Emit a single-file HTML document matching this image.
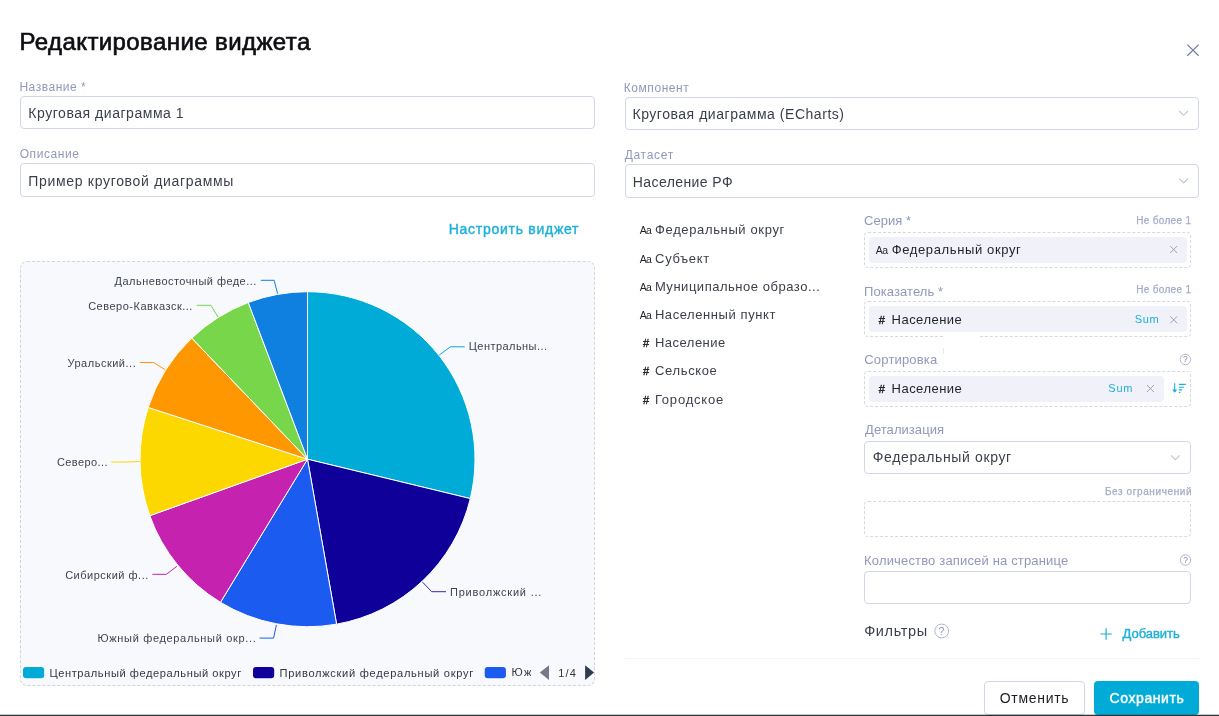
<!DOCTYPE html>
<html><head><meta charset="utf-8"><title>Редактирование виджета</title>
<style>
html,body{margin:0;padding:0;}
body{width:1219px;height:716px;position:relative;overflow:hidden;background:#fff;font-family:"Liberation Sans",sans-serif;}
.t{position:absolute;white-space:nowrap;line-height:1;font-family:"Liberation Sans",sans-serif;}
.box{position:absolute;box-sizing:border-box;border:1px solid #d3d6e8;border-radius:4px;background:#fff;}
.dash{position:absolute;box-sizing:border-box;border:1px dashed #d5d8e8;border-radius:4px;}
.chip{position:absolute;background:#f1f2f9;border-radius:4px;}
svg{position:absolute;left:0;top:0;}
</style></head><body>
<!-- inputs left -->
<div class="box" style="left:20px;top:96px;width:575px;height:33px"></div>
<div class="box" style="left:20px;top:163px;width:575px;height:34px"></div>
<!-- selects right -->
<div class="box" style="left:625px;top:97px;width:574px;height:33px"></div>
<div class="box" style="left:625px;top:164px;width:574px;height:34px"></div>
<!-- chart box -->
<div class="dash" style="left:20px;top:261px;width:575px;height:425px;border-radius:7px;background:#f8f9fd;border-color:#d3d4dc"></div>
<!-- right panel -->
<div class="dash" style="left:864px;top:232px;width:327px;height:36px"></div>
<div class="chip" style="left:869px;top:237px;width:318px;height:26px"></div>
<div class="dash" style="left:864px;top:301px;width:327px;height:36px"></div>
<div class="chip" style="left:869px;top:306px;width:318px;height:26px"></div>
<div style="position:absolute;left:944px;top:334px;width:36px;height:5px;background:#fff"></div>
<div style="position:absolute;left:943px;top:348px;width:1px;height:6px;background:#d6f0f9"></div>
<div class="dash" style="left:864px;top:371px;width:327px;height:36px"></div>
<div class="chip" style="left:869px;top:376px;width:295px;height:26px"></div>
<div class="box" style="left:864px;top:441px;width:327px;height:33px"></div>
<div class="dash" style="left:864px;top:501px;width:327px;height:36px"></div>
<div class="box" style="left:864px;top:571px;width:327px;height:33px"></div>
<!-- divider -->
<div style="position:absolute;left:625px;top:658px;width:574px;height:1px;background:#f3f4f8"></div>
<!-- buttons -->
<div class="box" style="left:984px;top:681px;width:101px;height:34px"></div>
<div style="position:absolute;left:1094px;top:681px;width:105px;height:34px;border-radius:4px;background:#00acd7"></div>
<!-- bottom dark line -->
<div style="position:absolute;left:0;top:714px;width:1219px;height:1px;background:rgba(48,51,56,0.28);z-index:5"></div>
<div style="position:absolute;left:0;top:715px;width:1219px;height:1px;background:#303338;z-index:5"></div>
<svg width="1219" height="716" viewBox="0 0 1219 716">
<path d="M307.5,459.2 L307.50,291.70 A167.5,167.5 0 0 1 470.30,498.59 Z" fill="#00acd7" stroke="#fff" stroke-width="1" stroke-linejoin="round"/>
<path d="M307.5,459.2 L470.30,498.59 A167.5,167.5 0 0 1 336.59,624.16 Z" fill="#10009a" stroke="#fff" stroke-width="1" stroke-linejoin="round"/>
<path d="M307.5,459.2 L336.59,624.16 A167.5,167.5 0 0 1 220.48,602.32 Z" fill="#1b5bef" stroke="#fff" stroke-width="1" stroke-linejoin="round"/>
<path d="M307.5,459.2 L220.48,602.32 A167.5,167.5 0 0 1 149.80,515.66 Z" fill="#c522b0" stroke="#fff" stroke-width="1" stroke-linejoin="round"/>
<path d="M307.5,459.2 L149.80,515.66 A167.5,167.5 0 0 1 148.20,407.44 Z" fill="#fcd800" stroke="#fff" stroke-width="1" stroke-linejoin="round"/>
<path d="M307.5,459.2 L148.20,407.44 A167.5,167.5 0 0 1 191.78,338.10 Z" fill="#ff9800" stroke="#fff" stroke-width="1" stroke-linejoin="round"/>
<path d="M307.5,459.2 L191.78,338.10 A167.5,167.5 0 0 1 248.29,302.51 Z" fill="#78d64b" stroke="#fff" stroke-width="1" stroke-linejoin="round"/>
<path d="M307.5,459.2 L248.29,302.51 A167.5,167.5 0 0 1 307.50,291.70 Z" fill="#0f80e0" stroke="#fff" stroke-width="1" stroke-linejoin="round"/>
<polyline points="439.3,355.0 450.4,346.8 464.7,346.8" fill="none" stroke="#00acd7" stroke-width="1"/>
<polyline points="422.5,582.1 431.7,591.7 446.0,591.7" fill="none" stroke="#3528ad" stroke-width="1"/>
<polyline points="276.4,625.0 273.6,638.1 259.6,638.1" fill="none" stroke="#1b5bef" stroke-width="1"/>
<polyline points="176.9,566.3 166.4,574.3 152.3,574.3" fill="none" stroke="#c522b0" stroke-width="1"/>
<polyline points="139.6,461.5 125.0,462.0 111.2,462.0" fill="none" stroke="#fcd800" stroke-width="1"/>
<polyline points="165.0,369.6 153.5,362.5 139.8,362.5" fill="none" stroke="#ff9800" stroke-width="1"/>
<polyline points="217.9,317.0 211.0,305.3 196.7,305.3" fill="none" stroke="#78d64b" stroke-width="1"/>
<polyline points="277.6,293.6 274.1,280.3 260.8,280.3" fill="none" stroke="#0f80e0" stroke-width="1"/>
<!-- legend -->
<rect x="23" y="667" width="21.2" height="11.2" rx="3" stroke="#fdfdff" stroke-width="1.6" paint-order="stroke" fill="#00acd7"/>
<rect x="253" y="667" width="21.2" height="11.2" rx="3" stroke="#fdfdff" stroke-width="1.6" paint-order="stroke" fill="#10009a"/>
<rect x="484.7" y="667" width="21.2" height="11.2" rx="3" stroke="#fdfdff" stroke-width="1.6" paint-order="stroke" fill="#1b5bef"/>
<path d="M549,665.2 L549,680 L539.8,672.6 Z" fill="#77778d"/>
<path d="M585.1,665.2 L585.1,680 L594,672.6 Z" fill="#2f3a4f"/>
<!-- close X -->
<path d="M1187.3,44.6 L1198.7,55.8 M1198.7,44.6 L1187.3,55.8" stroke="#7b80a2" stroke-width="1.3" fill="none"/>
<!-- select chevrons -->
<path d="M1179.2,111 L1183.6,115.3 L1188,111" stroke="#c2c5db" stroke-width="1.15" fill="none"/>
<path d="M1179.2,178.7 L1183.6,183 L1188,178.7" stroke="#c2c5db" stroke-width="1.15" fill="none"/>
<path d="M1171,455.4 L1175.4,459.7 L1179.7,455.4" stroke="#c2c5db" stroke-width="1.15" fill="none"/>
<!-- chip x -->
<path d="M1170.2,246 L1177.2,253 M1177.2,246 L1170.2,253" stroke="#9a9fc0" stroke-width="1" fill="none"/>
<path d="M1170.2,316.3 L1177.2,323.3 M1177.2,316.3 L1170.2,323.3" stroke="#9a9fc0" stroke-width="1" fill="none"/>
<path d="M1146.9,385 L1153.9,392 M1153.9,385 L1146.9,392" stroke="#9a9fc0" stroke-width="1" fill="none"/>
<!-- sort icon -->
<path d="M1174.7,383.2 L1174.7,391.6" stroke="#1eb0d8" stroke-width="1.1" fill="none"/>
<path d="M1172.1,389.6 L1177.3,389.6 L1174.7,392.8 Z" fill="#1eb0d8"/>
<path d="M1178.9,384.4 L1185.8,384.4 M1178.9,387.2 L1184,387.2 M1178.9,389.9 L1182.3,389.9 M1178.9,392.4 L1180.4,392.4" stroke="#1eb0d8" stroke-width="1.1" fill="none"/>
<!-- help icons -->
<circle cx="1185.4" cy="359.5" r="5.2" stroke="#a9aecb" stroke-width="0.9" fill="none"/>
<circle cx="1185.5" cy="560" r="5.2" stroke="#a9aecb" stroke-width="0.9" fill="none"/>
<circle cx="941.7" cy="631" r="6.9" stroke="#a9aecb" stroke-width="0.9" fill="none"/>
<!-- plus -->
<path d="M1100.4,634 L1111.8,634 M1106.1,628.3 L1106.1,639.7" stroke="#1eb0d8" stroke-width="1.2" fill="none"/>
</svg>
<div style="position:absolute;left:0;top:0;width:1219px;height:716px;will-change:transform">
<span class="t" style="left:1183.1px;top:355.3px;font-size:8.5px;color:#9196ba;-webkit-text-stroke:0.12px #9196ba">?</span>
<span class="t" style="left:1183.2px;top:555.9px;font-size:8.5px;color:#9196ba;-webkit-text-stroke:0.12px #9196ba">?</span>
<span class="t" style="left:938.6px;top:625.6px;font-size:10.5px;color:#9196ba">?</span>
<span class="t" style="left:19.47px;top:29.68px;font-size:24px;color:#0d0d12;letter-spacing:0.404px;-webkit-text-stroke:0.65px #0d0d12;">Редактирование виджета</span>
<span class="t" style="left:19.41px;top:80.84px;font-size:12px;color:#9397bb;letter-spacing:0.523px;">Название *</span>
<span class="t" style="left:28.36px;top:106.05px;font-size:14px;color:#3b3f4a;letter-spacing:0.536px;">Круговая диаграмма 1</span>
<span class="t" style="left:19.69px;top:147.84px;font-size:12px;color:#9397bb;letter-spacing:0.592px;">Описание</span>
<span class="t" style="left:28.27px;top:173.95px;font-size:14px;color:#3b3f4a;letter-spacing:0.688px;">Пример круговой диаграммы</span>
<span class="t" style="left:623.71px;top:81.84px;font-size:12px;color:#9397bb;letter-spacing:0.574px;">Компонент</span>
<span class="t" style="left:632.46px;top:107.05px;font-size:14px;color:#3b3f4a;letter-spacing:0.532px;">Круговая диаграмма (ECharts)</span>
<span class="t" style="left:624.67px;top:149.04px;font-size:12px;color:#9397bb;letter-spacing:0.701px;">Датасет</span>
<span class="t" style="left:632.76px;top:174.65px;font-size:14px;color:#3b3f4a;letter-spacing:0.420px;">Население РФ</span>
<span class="t" style="left:448.77px;top:222.15px;font-size:14px;color:#1eb0d8;letter-spacing:0.727px;-webkit-text-stroke:0.4px #1eb0d8;">Настроить виджет</span>
<span class="t" style="left:655.04px;top:223.20px;font-size:13px;color:#3b3f4a;letter-spacing:0.635px;">Федеральный округ</span>
<span class="t" style="left:655.11px;top:251.60px;font-size:13px;color:#3b3f4a;letter-spacing:0.631px;">Субъект</span>
<span class="t" style="left:654.89px;top:280.00px;font-size:13px;color:#3b3f4a;letter-spacing:0.524px;">Муниципальное образо...</span>
<span class="t" style="left:654.89px;top:308.20px;font-size:13px;color:#3b3f4a;letter-spacing:0.579px;">Населенный пункт</span>
<span class="t" style="left:654.89px;top:336.20px;font-size:13px;color:#3b3f4a;letter-spacing:0.500px;">Население</span>
<span class="t" style="left:655.11px;top:364.40px;font-size:13px;color:#3b3f4a;letter-spacing:0.627px;">Сельское</span>
<span class="t" style="left:654.89px;top:393.00px;font-size:13px;color:#3b3f4a;letter-spacing:0.795px;">Городское</span>
<span class="t" style="left:639.67px;top:225.31px;font-size:10.5px;color:#1f2229;letter-spacing:-0.602px;">Aa</span>
<span class="t" style="left:639.67px;top:253.71px;font-size:10.5px;color:#1f2229;letter-spacing:-0.602px;">Aa</span>
<span class="t" style="left:639.67px;top:282.11px;font-size:10.5px;color:#1f2229;letter-spacing:-0.602px;">Aa</span>
<span class="t" style="left:639.67px;top:310.31px;font-size:10.5px;color:#1f2229;letter-spacing:-0.602px;">Aa</span>
<span class="t" style="left:643.12px;top:337.89px;font-size:11px;color:#1f2229;letter-spacing:0.000px;-webkit-text-stroke:0.4px #1f2229;">#</span>
<span class="t" style="left:643.12px;top:366.09px;font-size:11px;color:#1f2229;letter-spacing:0.000px;-webkit-text-stroke:0.4px #1f2229;">#</span>
<span class="t" style="left:643.12px;top:394.69px;font-size:11px;color:#1f2229;letter-spacing:0.000px;-webkit-text-stroke:0.4px #1f2229;">#</span>
<span class="t" style="left:864.11px;top:214.10px;font-size:13px;color:#9397bb;letter-spacing:0.038px;">Серия *</span>
<span class="t" style="left:1136.25px;top:215.53px;font-size:10px;color:#a6aac8;letter-spacing:0.317px;-webkit-text-stroke:0.25px #a6aac8;">Не более 1</span>
<span class="t" style="left:875.67px;top:245.01px;font-size:10.5px;color:#1f2229;letter-spacing:-0.502px;">Aa</span>
<span class="t" style="left:891.74px;top:242.90px;font-size:13px;color:#1f2229;letter-spacing:0.623px;">Федеральный округ</span>
<span class="t" style="left:864.09px;top:284.60px;font-size:13px;color:#9397bb;letter-spacing:0.076px;">Показатель *</span>
<span class="t" style="left:1136.25px;top:284.54px;font-size:10px;color:#a6aac8;letter-spacing:0.317px;-webkit-text-stroke:0.25px #a6aac8;">Не более 1</span>
<span class="t" style="left:878.72px;top:314.59px;font-size:11px;color:#1f2229;letter-spacing:0.000px;-webkit-text-stroke:0.4px #1f2229;">#</span>
<span class="t" style="left:891.59px;top:312.90px;font-size:13px;color:#1f2229;letter-spacing:0.475px;">Население</span>
<span class="t" style="left:1134.77px;top:314.29px;font-size:11px;color:#1eb0d8;letter-spacing:0.639px;">Sum</span>
<span class="t" style="left:864.31px;top:353.10px;font-size:13px;color:#9397bb;letter-spacing:0.175px;">Сортировка</span>
<span class="t" style="left:878.72px;top:383.69px;font-size:11px;color:#1f2229;letter-spacing:0.000px;-webkit-text-stroke:0.4px #1f2229;">#</span>
<span class="t" style="left:891.59px;top:382.00px;font-size:13px;color:#1f2229;letter-spacing:0.475px;">Население</span>
<span class="t" style="left:1108.37px;top:383.29px;font-size:11px;color:#1eb0d8;letter-spacing:0.689px;">Sum</span>
<span class="t" style="left:865.07px;top:423.40px;font-size:13px;color:#9397bb;letter-spacing:0.050px;">Детализация</span>
<span class="t" style="left:872.81px;top:449.85px;font-size:14px;color:#3b3f4a;letter-spacing:0.630px;">Федеральный округ</span>
<span class="t" style="left:1104.95px;top:486.54px;font-size:10px;color:#a6aac8;letter-spacing:0.603px;-webkit-text-stroke:0.25px #a6aac8;">Без ограничений</span>
<span class="t" style="left:864.09px;top:553.60px;font-size:13px;color:#9397bb;letter-spacing:0.162px;">Количество записей на странице</span>
<span class="t" style="left:864.19px;top:623.63px;font-size:14.5px;color:#3b3f4a;letter-spacing:0.636px;">Фильтры</span>
<span class="t" style="left:1122.59px;top:627.20px;font-size:13px;color:#1eb0d8;letter-spacing:-0.034px;-webkit-text-stroke:0.4px #1eb0d8;">Добавить</span>
<span class="t" style="left:999.71px;top:690.95px;font-size:14px;color:#1c1c24;letter-spacing:0.699px;">Отменить</span>
<span class="t" style="left:1109.45px;top:690.95px;font-size:14px;color:#ffffff;letter-spacing:0.606px;-webkit-text-stroke:0.4px #ffffff;">Сохранить</span>
<span class="t" style="left:468.77px;top:341.49px;font-size:11px;color:#3f4351;letter-spacing:0.448px;">Центральны...</span>
<span class="t" style="left:449.97px;top:586.89px;font-size:11px;color:#3f4351;letter-spacing:0.789px;">Приволжский ...</span>
<span class="t" style="left:97.57px;top:632.89px;font-size:11px;color:#3f4351;letter-spacing:0.665px;">Южный федеральный окр...</span>
<span class="t" style="left:65.18px;top:569.69px;font-size:11px;color:#3f4351;letter-spacing:0.508px;">Сибирский ф...</span>
<span class="t" style="left:56.90px;top:457.49px;font-size:11px;color:#3f4351;letter-spacing:0.422px;">Северо...</span>
<span class="t" style="left:67.51px;top:357.59px;font-size:11px;color:#3f4351;letter-spacing:0.504px;">Уральский...</span>
<span class="t" style="left:88.18px;top:300.79px;font-size:11px;color:#3f4351;letter-spacing:0.506px;">Северо-Кавказск...</span>
<span class="t" style="left:114.59px;top:276.19px;font-size:11px;color:#3f4351;letter-spacing:0.460px;">Дальневосточный феде...</span>
<span class="t" style="left:49.47px;top:667.60px;font-size:11.1px;color:#333741;letter-spacing:0.569px;">Центральный федеральный округ</span>
<span class="t" style="left:279.47px;top:667.60px;font-size:11.1px;color:#333741;letter-spacing:0.702px;">Приволжский федеральный округ</span>
<span class="t" style="left:511.57px;top:667.40px;font-size:11.1px;color:#333741;letter-spacing:1.300px;width:19.2px;overflow:hidden;padding-left:2px;margin-left:-2px;">Южный</span>
<span class="t" style="left:558.15px;top:667.59px;font-size:11px;color:#333741;letter-spacing:1.183px;">1/4</span>
</div>
</body></html>
